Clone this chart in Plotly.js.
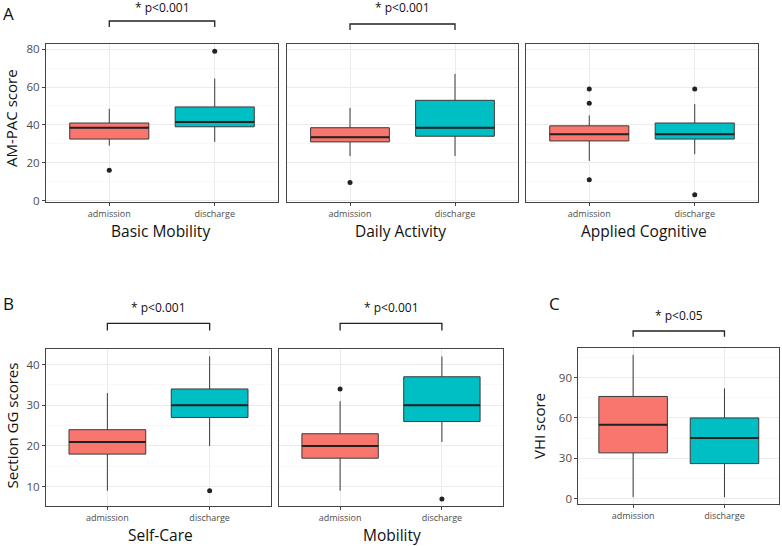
<!DOCTYPE html>
<html>
<head>
<meta charset="utf-8">
<script src="https://cdn.plot.ly/plotly-3.0.1.min.js"></script>
<style>
  html, body { margin: 0; padding: 0; background: #ffffff; }
  #chart { width: 782px; height: 546px; }
</style>
</head>
<body>
<div id="chart"></div>
<script>
// Groups compared in every panel
const groups = ['admission', 'discharge'];
const groupColors = ['#F8766D', '#00BFC4'];

// AM-PAC: Basic Mobility [admission, discharge]
const basicMobilityLower  = [29, 31];
const basicMobilityQ1     = [32.5, 39];
const basicMobilityMedian = [38.5, 41.5];
const basicMobilityQ3     = [41, 49.5];
const basicMobilityUpper  = [48.5, 64.5];
const basicMobilityOutliers = [[16], [79]];

// AM-PAC: Daily Activity
const dailyActivityLower  = [23.5, 23.5];
const dailyActivityQ1     = [31, 34];
const dailyActivityMedian = [33.5, 38.5];
const dailyActivityQ3     = [38.5, 53];
const dailyActivityUpper  = [49, 67];
const dailyActivityOutliers = [[9.5], []];

// AM-PAC: Applied Cognitive
const appliedCognitiveLower  = [21, 24.5];
const appliedCognitiveQ1     = [31.5, 32.5];
const appliedCognitiveMedian = [35, 35];
const appliedCognitiveQ3     = [39.5, 41];
const appliedCognitiveUpper  = [45, 51];
const appliedCognitiveOutliers = [[11, 51.5, 59], [3, 59]];

// Section GG: Self-Care
const selfCareLower  = [9, 20];
const selfCareQ1     = [18, 27];
const selfCareMedian = [21, 30];
const selfCareQ3     = [24, 34];
const selfCareUpper  = [33, 42];
const selfCareOutliers = [[], [9]];

// Section GG: Mobility
const mobilityLower  = [9, 21];
const mobilityQ1     = [17, 26];
const mobilityMedian = [20, 30];
const mobilityQ3     = [23, 37];
const mobilityUpper  = [31, 42];
const mobilityOutliers = [[34], [7]];

// VHI
const vhiLower  = [1, 1];
const vhiQ1     = [34, 26];
const vhiMedian = [55, 45];
const vhiQ3     = [76, 60];
const vhiUpper  = [107, 82];
const vhiOutliers = [[], []];

// Tick and title labels
const amPacTitle = 'AM-PAC score';
const ggTitle = 'Section GG scores';
const vhiTitle = 'VHI score';
const sigLabels = ['* p<0.001', '* p<0.001', '* p<0.001', '* p<0.001', '* p<0.05'];

const W = 782, H = 546;
const px = v => v / W;
const py = v => 1 - v / H;

const BOX_WIDTH = 0.75;
const FONT = 'Open Sans, Noto Sans, sans-serif';

function stats(lower, q1, median, q3, upper, outliers) {
  return { lower, q1, median, q3, upper, outliers };
}

const panels = [
  { s: stats(basicMobilityLower, basicMobilityQ1, basicMobilityMedian, basicMobilityQ3, basicMobilityUpper, basicMobilityOutliers), xa: 'x', ya: 'y' },
  { s: stats(dailyActivityLower, dailyActivityQ1, dailyActivityMedian, dailyActivityQ3, dailyActivityUpper, dailyActivityOutliers), xa: 'x2', ya: 'y2' },
  { s: stats(appliedCognitiveLower, appliedCognitiveQ1, appliedCognitiveMedian, appliedCognitiveQ3, appliedCognitiveUpper, appliedCognitiveOutliers), xa: 'x3', ya: 'y3' },
  { s: stats(selfCareLower, selfCareQ1, selfCareMedian, selfCareQ3, selfCareUpper, selfCareOutliers), xa: 'x4', ya: 'y4' },
  { s: stats(mobilityLower, mobilityQ1, mobilityMedian, mobilityQ3, mobilityUpper, mobilityOutliers), xa: 'x5', ya: 'y5' },
  { s: stats(vhiLower, vhiQ1, vhiMedian, vhiQ3, vhiUpper, vhiOutliers), xa: 'x6', ya: 'y6' }
];

// ggplot-style 5% expansion of the data span
function expandedRange(list) {
  let lo = Infinity, hi = -Infinity;
  list.forEach(s => {
    const vals = [].concat(s.lower, s.upper, ...s.outliers);
    vals.forEach(v => { lo = Math.min(lo, v); hi = Math.max(hi, v); });
  });
  const pad = (hi - lo) * 0.05;
  return [lo - pad, hi + pad];
}

const traces = [];
panels.forEach(p => {
  const s = p.s;
  groups.forEach((g, i) => {
    traces.push({
      type: 'box', name: g, x: [i + 1],
      q1: [s.q1[i]], median: [s.median[i]], q3: [s.q3[i]],
      lowerfence: [s.lower[i]], upperfence: [s.upper[i]],
      width: BOX_WIDTH, whiskerwidth: 0, boxpoints: false,
      fillcolor: groupColors[i], line: { color: '#3a3a3a', width: 1 },
      xaxis: p.xa, yaxis: p.ya, hoverinfo: 'skip', showlegend: false
    });
  });
  // heavier median bars
  const mx = [], my = [];
  groups.forEach((g, i) => {
    mx.push(i + 1 - BOX_WIDTH / 2, i + 1 + BOX_WIDTH / 2, null);
    my.push(s.median[i], s.median[i], null);
  });
  traces.push({
    type: 'scatter', mode: 'lines', x: mx, y: my,
    line: { color: '#222222', width: 2 },
    xaxis: p.xa, yaxis: p.ya, hoverinfo: 'skip', showlegend: false
  });
  // outlying points
  const ox = [], oy = [];
  s.outliers.forEach((arr, i) => arr.forEach(v => { ox.push(i + 1); oy.push(v); }));
  traces.push({
    type: 'scatter', mode: 'markers', x: ox, y: oy,
    marker: { color: '#222222', size: 5 },
    xaxis: p.xa, yaxis: p.ya, hoverinfo: 'skip', showlegend: false
  });
});

function xAxis(domain, anchor) {
  return {
    domain, anchor, range: [0.4, 2.6], tickvals: [1, 2], ticktext: groups,
    showgrid: true, gridcolor: '#EBEBEB', gridwidth: 1, zeroline: false,
    showline: true, mirror: true, linecolor: '#444', linewidth: 1,
    ticks: 'outside', ticklen: 3, tickcolor: '#444',
    tickfont: { family: FONT, size: 9, color: '#4D4D4D' }, fixedrange: true
  };
}

function yAxis(domain, anchor, range, dtick, labels) {
  return {
    domain, anchor, range, dtick, tick0: 0,
    showgrid: true, gridcolor: '#EBEBEB', gridwidth: 1, zeroline: false,
    minor: { dtick: dtick / 2, tick0: 0, showgrid: true, gridcolor: '#F3F3F3', gridwidth: 0.6 },
    showline: true, mirror: true, linecolor: '#444', linewidth: 1,
    ticks: labels ? 'outside' : '', ticklen: 3, tickcolor: '#444',
    showticklabels: labels,
    tickfont: { family: FONT, size: 11.5, color: '#4D4D4D' }, fixedrange: true
  };
}

const rangeA = expandedRange([panels[0].s, panels[1].s, panels[2].s]);
const rangeB = expandedRange([panels[3].s, panels[4].s]);
const rangeC = expandedRange([panels[5].s]);

const rowA = [py(202), py(44)];
const rowB = [py(506), py(349.3)];
const rowC = [py(504.3), py(347.7)];

const layout = {
  width: W, height: H,
  margin: { l: 0, r: 0, t: 0, b: 0 },
  paper_bgcolor: '#ffffff', plot_bgcolor: '#ffffff',
  font: { family: FONT, color: '#111' },
  showlegend: false,
  xaxis:  xAxis([px(46), px(278)], 'y'),
  yaxis:  yAxis(rowA, 'x', rangeA, 20, true),
  xaxis2: xAxis([px(287), px(518)], 'y2'),
  yaxis2: yAxis(rowA, 'x2', rangeA, 20, false),
  xaxis3: xAxis([px(526), px(758)], 'y3'),
  yaxis3: yAxis(rowA, 'x3', rangeA, 20, false),
  xaxis4: xAxis([px(46), px(271)], 'y4'),
  yaxis4: yAxis(rowB, 'x4', rangeB, 10, true),
  xaxis5: xAxis([px(279), px(503)], 'y5'),
  yaxis5: yAxis(rowB, 'x5', rangeB, 10, false),
  xaxis6: xAxis([px(578.3), px(779.3)], 'y6'),
  yaxis6: yAxis(rowC, 'x6', rangeC, 30, true),
  shapes: [],
  annotations: []
};

// significance brackets spanning admission→discharge
const brackets = [
  { xref: 'x',  top: 21,    foot: 27,    text: 8,     label: sigLabels[0] },
  { xref: 'x2', top: 24,    foot: 30,    text: 8,     label: sigLabels[1] },
  { xref: 'x4', top: 323.3, foot: 330.5, text: 307.5, label: sigLabels[2] },
  { xref: 'x5', top: 323.3, foot: 330.5, text: 307.5, label: sigLabels[3] },
  { xref: 'x6', top: 331,   foot: 336.7, text: 315.8, label: sigLabels[4] }
];
brackets.forEach(b => {
  layout.shapes.push({
    type: 'path', xref: b.xref, yref: 'paper',
    path: `M1,${py(b.foot)} L1,${py(b.top)} L2,${py(b.top)} L2,${py(b.foot)}`,
    line: { color: '#222', width: 1.3 }
  });
  layout.annotations.push({
    xref: b.xref, yref: 'paper', x: 1.5, y: py(b.text),
    text: b.label, showarrow: false, xanchor: 'center', yanchor: 'middle',
    font: { family: FONT, size: 12, color: '#111' }
  });
});

function label(text, x, y, size, angle) {
  layout.annotations.push({
    xref: 'paper', yref: 'paper', x: px(x), y: py(y), text,
    showarrow: false, xanchor: 'center', yanchor: 'middle',
    textangle: angle || 0, font: { family: FONT, size, color: '#111' }
  });
}

// panel letters
label('A', 8, 13.5, 17);
label('B', 8, 303.5, 17);
label('C', 554, 303.5, 17);

// y-axis titles
label(amPacTitle, 11, 118, 15, -90);
label(ggTitle, 11.5, 426, 15, -90);
label(vhiTitle, 539, 426, 15, -90);

// facet titles under each panel
label('Basic Mobility', 160, 230.5, 15.5);
label('Daily Activity', 400, 230.5, 15.5);
label('Applied Cognitive', 644, 230.5, 15.5);
label('Self-Care', 160, 534.5, 15.5);
label('Mobility', 392, 534.5, 15.5);

Plotly.newPlot('chart', traces, layout, { staticPlot: true, displayModeBar: false });
</script>
</body>
</html>
